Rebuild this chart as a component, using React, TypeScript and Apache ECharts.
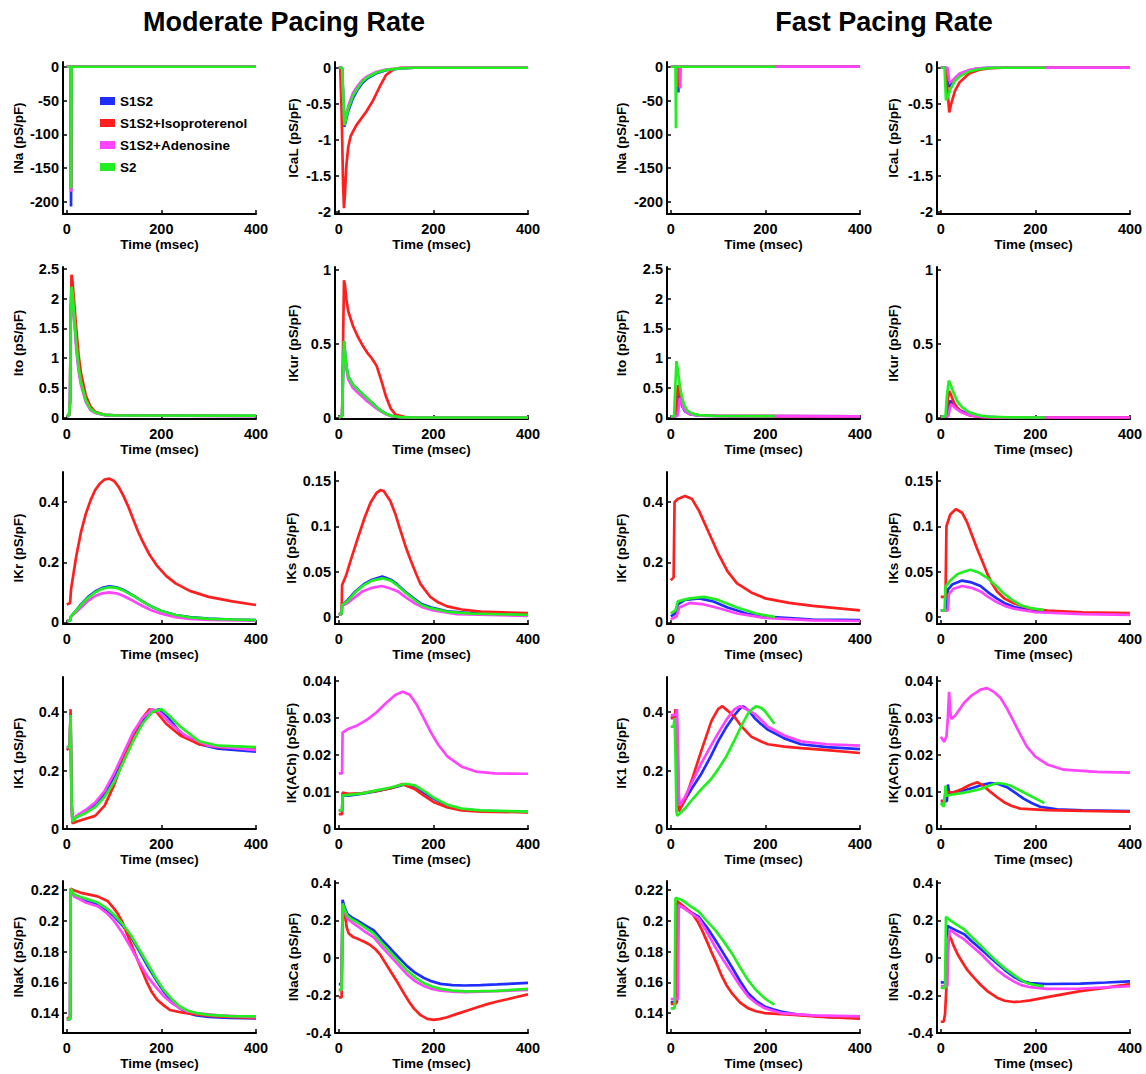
import React, { useEffect, useRef } from 'react';
import * as echarts from 'echarts';

const FONT = '"Liberation Sans", Arial, Helvetica, sans-serif';

const seriesNames = ['S1S2', 'S1S2+Isoproterenol', 'S1S2+Adenosine', 'S2'];
const seriesColors = ['#1f2eff', '#ff1f1f', '#ff44ff', '#22ee22'];
const panelTitles = ['Moderate Pacing Rate', 'Fast Pacing Rate'];
const timeTicks = [0, 200, 400];
const timeRange = [-8, 400];

// current names by row (left, right)
const currentLabels = [
  ['INa (pS/pF)', 'ICaL (pS/pF)'],
  ['Ito (pS/pF)', 'IKur (pS/pF)'],
  ['IKr (pS/pF)', 'IKs (pS/pF)'],
  ['IK1 (pS/pF)', 'IK(ACh) (pS/pF)'],
  ['INaK (pS/pF)', 'INaCa (pS/pF)'],
];

const ticksINa = [-200, -150, -100, -50, 0];
const ticksICaL = [-2, -1.5, -1, -0.5, 0];
const ticksIto = [0, 0.5, 1, 1.5, 2, 2.5];
const ticksIKur = [0, 0.5, 1];
const ticksIKr = [0, 0.2, 0.4];
const ticksIKs = [0, 0.05, 0.1, 0.15];
const ticksIK1 = [0, 0.2, 0.4];
const ticksIKACh = [0, 0.01, 0.02, 0.03, 0.04];
const ticksINaK = [0.14, 0.16, 0.18, 0.2, 0.22];
const ticksINaCa = [-0.4, -0.2, 0, 0.2, 0.4];

const rangeINa = [-218, 7];
const rangeICaL = [-2.03, 0.08];
const rangeIto = [-0.02, 2.53];
const rangeIKur = [-0.01, 1.02];
const rangeIKr = [-0.005, 0.5];
const rangeIKs = [-0.008, 0.16];
const rangeIK1 = [0, 0.52];
const rangeIKACh = [0, 0.041];
const rangeINaK = [0.127, 0.226];
const rangeINaCa = [-0.4, 0.41];

// ---- Moderate pacing rate: [S1S2, +Iso, +Ade, S2] as [time, value]
const mINa = [
  [[0, 0], [8, 0], [9, -207], [10, 0], [400, 0]],
  [[0, 0], [8, 0], [9, -182], [10, 0], [400, 0]],
  [[0, 0], [8, 0], [9, -185], [10, 0], [400, 0]],
  [[0, 0], [8, 0], [9, -180], [10, 0], [400, 0]],
];
const mICaL = [
  [[0, 0], [7, 0], [9, -0.35], [12, -0.82], [14, -0.76], [20, -0.6], [30, -0.42], [40, -0.3], [50, -0.21], [60, -0.15], [80, -0.075], [100, -0.035], [130, -0.01], [160, 0], [400, 0]],
  [[0, 0], [3, 0], [6, -0.6], [9, -1.6], [11, -1.95], [13, -1.75], [16, -1.36], [20, -1.1], [25, -0.95], [37, -0.8], [58, -0.61], [72, -0.46], [86, -0.27], [100, -0.1], [115, -0.025], [130, 0], [400, 0]],
  [[0, 0], [7, 0], [9, -0.33], [12, -0.76], [14, -0.7], [20, -0.53], [30, -0.35], [40, -0.25], [50, -0.17], [60, -0.12], [80, -0.055], [100, -0.025], [130, -0.005], [160, 0], [400, 0]],
  [[0, 0], [7, 0], [9, -0.34], [12, -0.8], [14, -0.74], [20, -0.57], [30, -0.39], [40, -0.28], [50, -0.19], [60, -0.135], [80, -0.065], [100, -0.03], [130, -0.008], [160, 0], [400, 0]],
];
const mIto = [
  [[0, 0.02], [5, 0.05], [7, 0.3], [8, 1.5], [10, 2.2], [12, 2.1], [15, 1.8], [20, 1.25], [25, 0.85], [30, 0.6], [40, 0.3], [50, 0.15], [60, 0.09], [80, 0.05], [100, 0.04], [400, 0.03]],
  [[0, 0.02], [5, 0.05], [7, 0.3], [8, 1.6], [10, 2.4], [12, 2.3], [15, 2.0], [20, 1.5], [25, 1.05], [30, 0.75], [40, 0.38], [50, 0.19], [60, 0.1], [80, 0.05], [100, 0.04], [400, 0.03]],
  [[0, 0.02], [5, 0.05], [7, 0.3], [8, 1.4], [10, 2.1], [12, 2.0], [15, 1.7], [20, 1.15], [25, 0.78], [30, 0.55], [40, 0.27], [50, 0.13], [60, 0.08], [80, 0.045], [100, 0.035], [400, 0.03]],
  [[0, 0.02], [5, 0.05], [7, 0.3], [8, 1.5], [10, 2.2], [12, 2.1], [15, 1.8], [20, 1.25], [25, 0.85], [30, 0.6], [40, 0.3], [50, 0.15], [60, 0.09], [80, 0.05], [100, 0.04], [400, 0.035]],
];
const mIKur = [
  [[0, 0], [7, 0.01], [9, 0.3], [11, 0.52], [13, 0.45], [16, 0.35], [20, 0.28], [30, 0.22], [40, 0.19], [50, 0.16], [60, 0.13], [70, 0.1], [80, 0.07], [90, 0.045], [100, 0.025], [110, 0.012], [130, 0.003], [160, 0], [400, 0]],
  [[0, 0], [7, 0.01], [9, 0.5], [11, 0.93], [13, 0.9], [16, 0.8], [20, 0.72], [30, 0.62], [40, 0.55], [50, 0.49], [60, 0.44], [70, 0.4], [80, 0.35], [90, 0.25], [100, 0.14], [110, 0.06], [120, 0.02], [140, 0.003], [160, 0], [400, 0]],
  [[0, 0], [7, 0.01], [9, 0.28], [11, 0.48], [13, 0.42], [16, 0.33], [20, 0.26], [30, 0.2], [40, 0.17], [50, 0.14], [60, 0.11], [70, 0.085], [80, 0.06], [90, 0.04], [100, 0.022], [110, 0.01], [130, 0.002], [160, 0], [400, 0]],
  [[0, 0], [7, 0.01], [9, 0.3], [11, 0.52], [13, 0.45], [16, 0.35], [20, 0.28], [30, 0.22], [40, 0.19], [50, 0.16], [60, 0.13], [70, 0.1], [80, 0.07], [90, 0.045], [100, 0.025], [110, 0.012], [130, 0.003], [160, 0], [400, 0]],
];
const mIKr = [
  [[0, 0.005], [7, 0.006], [9, 0.02], [20, 0.04], [30, 0.06], [45, 0.085], [60, 0.103], [75, 0.115], [90, 0.12], [105, 0.117], [120, 0.108], [140, 0.09], [160, 0.07], [180, 0.052], [200, 0.038], [230, 0.025], [260, 0.018], [300, 0.013], [350, 0.01], [400, 0.008]],
  [[0, 0.06], [7, 0.065], [9, 0.11], [15, 0.17], [20, 0.22], [30, 0.3], [40, 0.36], [50, 0.405], [60, 0.44], [70, 0.462], [80, 0.475], [90, 0.478], [100, 0.47], [110, 0.45], [120, 0.42], [130, 0.385], [140, 0.345], [150, 0.305], [160, 0.27], [175, 0.225], [190, 0.19], [210, 0.155], [230, 0.13], [260, 0.105], [300, 0.085], [350, 0.07], [400, 0.058]],
  [[0, 0.005], [7, 0.006], [9, 0.02], [20, 0.035], [30, 0.05], [45, 0.072], [60, 0.088], [75, 0.097], [90, 0.1], [105, 0.097], [120, 0.088], [140, 0.072], [160, 0.055], [180, 0.04], [200, 0.029], [230, 0.018], [260, 0.012], [300, 0.009], [400, 0.006]],
  [[0, 0.005], [7, 0.006], [9, 0.02], [20, 0.04], [30, 0.058], [45, 0.082], [60, 0.1], [75, 0.112], [90, 0.117], [105, 0.115], [120, 0.106], [140, 0.089], [160, 0.07], [180, 0.052], [200, 0.038], [230, 0.025], [260, 0.017], [300, 0.012], [350, 0.01], [400, 0.008]],
];
const mIKs = [
  [[0, 0.003], [6, 0.003], [7, 0.013], [18, 0.018], [35, 0.028], [53, 0.036], [70, 0.041], [92, 0.0445], [110, 0.041], [123, 0.036], [140, 0.028], [159, 0.02], [175, 0.014], [194, 0.0104], [229, 0.006], [280, 0.004], [400, 0.002]],
  [[0, 0.003], [6, 0.003], [7, 0.035], [15, 0.045], [25, 0.062], [39, 0.085], [55, 0.11], [67, 0.126], [80, 0.137], [88, 0.14], [95, 0.139], [109, 0.128], [120, 0.113], [130, 0.096], [141, 0.078], [152, 0.0625], [163, 0.048], [173, 0.036], [194, 0.0216], [210, 0.016], [229, 0.0115], [260, 0.008], [300, 0.0056], [400, 0.004]],
  [[0, 0.003], [6, 0.003], [7, 0.012], [18, 0.015], [35, 0.022], [50, 0.028], [70, 0.032], [90, 0.034], [105, 0.032], [125, 0.028], [140, 0.022], [160, 0.015], [180, 0.01], [200, 0.007], [250, 0.003], [400, 0.001]],
  [[0, 0.003], [6, 0.003], [7, 0.013], [18, 0.017], [35, 0.027], [53, 0.035], [70, 0.04], [92, 0.0425], [110, 0.04], [123, 0.035], [140, 0.027], [159, 0.019], [175, 0.013], [194, 0.0095], [229, 0.0055], [280, 0.0035], [400, 0.002]],
];
const mIK1 = [
  [[0, 0.28], [6, 0.28], [8, 0.38], [10, 0.1], [12, 0.025], [20, 0.04], [40, 0.06], [60, 0.085], [80, 0.12], [100, 0.18], [120, 0.25], [140, 0.32], [160, 0.37], [180, 0.4], [195, 0.41], [210, 0.39], [240, 0.33], [280, 0.29], [320, 0.275], [400, 0.265]],
  [[0, 0.27], [6, 0.28], [8, 0.41], [10, 0.1], [12, 0.02], [20, 0.025], [40, 0.035], [60, 0.045], [80, 0.08], [100, 0.15], [120, 0.24], [140, 0.32], [160, 0.38], [175, 0.41], [190, 0.4], [210, 0.36], [240, 0.32], [280, 0.29], [320, 0.28], [400, 0.275]],
  [[0, 0.28], [6, 0.28], [8, 0.38], [10, 0.1], [12, 0.025], [20, 0.045], [40, 0.065], [60, 0.09], [80, 0.13], [100, 0.19], [120, 0.26], [140, 0.33], [160, 0.38], [180, 0.41], [195, 0.4], [220, 0.36], [250, 0.32], [300, 0.285], [400, 0.27]],
  [[0, 0.28], [6, 0.28], [8, 0.39], [10, 0.1], [12, 0.025], [20, 0.04], [40, 0.055], [60, 0.075], [80, 0.11], [100, 0.16], [120, 0.23], [140, 0.3], [160, 0.36], [180, 0.4], [200, 0.41], [215, 0.39], [240, 0.35], [280, 0.3], [320, 0.285], [400, 0.28]],
];
const mIKACh = [
  [[0, 0.005], [7, 0.005], [8, 0.009], [20, 0.009], [50, 0.0095], [80, 0.0102], [110, 0.011], [140, 0.012], [160, 0.0115], [180, 0.0098], [200, 0.0082], [230, 0.0063], [260, 0.0054], [300, 0.0049], [400, 0.0046]],
  [[0, 0.004], [7, 0.004], [8, 0.0098], [20, 0.0095], [50, 0.0097], [80, 0.0103], [110, 0.011], [135, 0.0121], [160, 0.0108], [180, 0.009], [200, 0.0073], [230, 0.0058], [260, 0.005], [300, 0.0047], [400, 0.0045]],
  [[0, 0.015], [7, 0.015], [8, 0.026], [20, 0.027], [40, 0.028], [60, 0.0295], [80, 0.0315], [100, 0.034], [120, 0.0362], [135, 0.037], [150, 0.0362], [165, 0.0335], [180, 0.0298], [195, 0.026], [210, 0.0228], [230, 0.0195], [260, 0.0168], [290, 0.0155], [330, 0.015], [400, 0.0149]],
  [[0, 0.005], [7, 0.005], [8, 0.009], [20, 0.0092], [50, 0.0096], [80, 0.0104], [110, 0.0112], [140, 0.0122], [160, 0.0118], [180, 0.0103], [200, 0.0085], [230, 0.0065], [260, 0.0055], [300, 0.005], [400, 0.0047]],
];
const mINaK = [
  [[0, 0.136], [7, 0.136], [8, 0.22], [16, 0.216], [40, 0.2135], [65, 0.211], [85, 0.207], [100, 0.203], [118, 0.197], [135, 0.19], [152, 0.181], [170, 0.171], [188, 0.162], [205, 0.154], [222, 0.148], [239, 0.143], [256, 0.14], [274, 0.1385], [300, 0.1375], [344, 0.1368], [400, 0.1365]],
  [[0, 0.1367], [7, 0.1367], [8, 0.221], [15, 0.22], [30, 0.2183], [50, 0.217], [65, 0.216], [86, 0.213], [100, 0.208], [107, 0.205], [118, 0.199], [128, 0.191], [139, 0.183], [149, 0.175], [160, 0.167], [170, 0.1596], [180, 0.1535], [191, 0.1487], [205, 0.145], [218, 0.142], [240, 0.1405], [260, 0.1396], [309, 0.138], [400, 0.1367]],
  [[0, 0.136], [7, 0.136], [8, 0.22], [16, 0.216], [40, 0.212], [65, 0.2096], [85, 0.205], [100, 0.2], [118, 0.192], [135, 0.183], [152, 0.1735], [170, 0.164], [188, 0.157], [205, 0.151], [222, 0.1465], [239, 0.143], [256, 0.141], [274, 0.14], [320, 0.1385], [400, 0.1374]],
  [[0, 0.136], [7, 0.136], [8, 0.221], [16, 0.217], [40, 0.2145], [65, 0.212], [85, 0.208], [100, 0.204], [118, 0.198], [135, 0.191], [152, 0.182], [170, 0.1726], [188, 0.163], [205, 0.155], [222, 0.149], [239, 0.1443], [256, 0.1415], [274, 0.14], [300, 0.1388], [344, 0.138], [400, 0.1378]],
];
const mINaCa = [
  [[0, -0.14], [6, -0.14], [8, 0.31], [12, 0.27], [18, 0.234], [28, 0.215], [39, 0.2], [55, 0.175], [74, 0.147], [90, 0.1], [109, 0.05], [127, 0.002], [145, -0.045], [162, -0.08], [180, -0.107], [197, -0.125], [215, -0.138], [240, -0.145], [265, -0.147], [300, -0.145], [335, -0.141], [400, -0.133]],
  [[0, -0.21], [6, -0.21], [8, 0.28], [11, 0.25], [14, 0.21], [17, 0.16], [21, 0.13], [30, 0.112], [39, 0.103], [55, 0.085], [67, 0.068], [78, 0.045], [88, 0.016], [98, -0.025], [109, -0.07], [124, -0.13], [138, -0.19], [149, -0.235], [159, -0.27], [173, -0.305], [187, -0.325], [201, -0.33], [215, -0.325], [229, -0.316], [250, -0.298], [272, -0.28], [293, -0.263], [314, -0.246], [335, -0.232], [356, -0.22], [378, -0.207], [400, -0.194]],
  [[0, -0.17], [6, -0.17], [8, 0.28], [12, 0.25], [18, 0.21], [28, 0.19], [39, 0.17], [55, 0.14], [74, 0.11], [90, 0.062], [109, 0.01], [127, -0.04], [145, -0.09], [162, -0.125], [180, -0.15], [197, -0.165], [215, -0.175], [240, -0.18], [265, -0.182], [300, -0.18], [400, -0.17]],
  [[0, -0.17], [6, -0.17], [8, 0.29], [12, 0.26], [18, 0.225], [28, 0.205], [39, 0.19], [55, 0.163], [74, 0.13], [90, 0.082], [109, 0.03], [127, -0.02], [145, -0.07], [162, -0.105], [180, -0.135], [197, -0.152], [215, -0.165], [240, -0.174], [265, -0.178], [300, -0.177], [335, -0.175], [400, -0.165]],
];

// ---- Fast pacing rate
const fINa = [
  [[0, 0], [15, 0], [16, -38], [17, 0], [400, 0]],
  [[0, 0], [16, 0], [17, -30], [18, 0], [400, 0]],
  [[0, 0], [19, 0], [20, -32], [21, 0], [400, 0]],
  [[0, 0], [10, 0], [11, -91], [12, 0], [220, 0]],
];
const fICaL = [
  [[0, 0], [12, 0], [16, -0.25], [20, -0.26], [25, -0.2], [35, -0.12], [50, -0.06], [70, -0.02], [100, 0], [400, 0]],
  [[0, 0], [10, 0], [14, -0.3], [18, -0.62], [22, -0.5], [30, -0.32], [40, -0.2], [60, -0.08], [80, -0.03], [100, -0.01], [130, 0], [400, 0]],
  [[0, 0], [14, 0], [18, -0.18], [22, -0.2], [30, -0.14], [40, -0.08], [60, -0.03], [90, 0], [400, 0]],
  [[0, 0], [8, 0], [11, -0.45], [14, -0.42], [20, -0.3], [30, -0.18], [40, -0.12], [60, -0.05], [80, -0.02], [110, 0], [220, 0]],
];
const fIto = [
  [[0, 0.02], [12, 0.03], [15, 0.2], [17, 0.38], [20, 0.3], [25, 0.18], [30, 0.11], [40, 0.06], [60, 0.035], [100, 0.03], [400, 0.025]],
  [[0, 0.02], [10, 0.03], [13, 0.3], [15, 0.55], [18, 0.45], [22, 0.3], [30, 0.15], [40, 0.08], [60, 0.04], [100, 0.03], [400, 0.025]],
  [[0, 0.02], [14, 0.03], [17, 0.18], [19, 0.33], [22, 0.27], [27, 0.16], [32, 0.1], [40, 0.06], [60, 0.035], [100, 0.03], [400, 0.025]],
  [[0, 0.02], [7, 0.03], [10, 0.6], [12, 0.95], [14, 0.85], [18, 0.6], [22, 0.4], [28, 0.22], [35, 0.12], [45, 0.07], [60, 0.045], [100, 0.03], [220, 0.028]],
];
const fIKur = [
  [[0, 0.005], [14, 0.01], [17, 0.08], [20, 0.115], [24, 0.1], [30, 0.075], [40, 0.05], [55, 0.027], [70, 0.014], [90, 0.006], [120, 0.002], [160, 0], [400, 0]],
  [[0, 0.005], [12, 0.01], [15, 0.13], [18, 0.18], [22, 0.15], [28, 0.1], [35, 0.065], [45, 0.035], [60, 0.015], [80, 0.005], [110, 0], [400, 0]],
  [[0, 0.005], [16, 0.01], [19, 0.06], [22, 0.09], [26, 0.08], [32, 0.06], [42, 0.038], [55, 0.022], [70, 0.011], [90, 0.005], [120, 0.001], [160, 0], [400, 0]],
  [[0, 0.005], [10, 0.01], [13, 0.15], [17, 0.25], [21, 0.22], [28, 0.16], [35, 0.11], [45, 0.07], [60, 0.035], [80, 0.015], [100, 0.006], [140, 0.002], [220, 0]],
];
const fIKr = [
  [[0, 0.02], [10, 0.03], [15, 0.06], [30, 0.075], [60, 0.08], [90, 0.07], [120, 0.05], [160, 0.03], [200, 0.02], [300, 0.01], [400, 0.008]],
  [[0, 0.14], [6, 0.15], [8, 0.4], [15, 0.41], [30, 0.42], [45, 0.41], [60, 0.37], [80, 0.3], [100, 0.23], [120, 0.17], [140, 0.13], [170, 0.1], [200, 0.08], [250, 0.065], [300, 0.055], [400, 0.04]],
  [[0, 0.01], [12, 0.02], [18, 0.05], [40, 0.065], [70, 0.06], [100, 0.048], [140, 0.03], [200, 0.015], [300, 0.007], [400, 0.005]],
  [[0, 0.03], [10, 0.04], [15, 0.07], [40, 0.08], [70, 0.085], [100, 0.075], [140, 0.05], [180, 0.03], [220, 0.018]],
];
const fIKs = [
  [[0, 0.007], [13, 0.007], [15, 0.03], [25, 0.036], [45, 0.04], [65, 0.038], [84, 0.034], [100, 0.027], [119, 0.02], [135, 0.015], [154, 0.011], [189, 0.007], [225, 0.005], [300, 0.004], [400, 0.003]],
  [[0, 0.022], [10, 0.022], [12, 0.1], [20, 0.113], [32, 0.119], [45, 0.115], [56, 0.104], [66, 0.09], [77, 0.075], [88, 0.061], [98, 0.048], [108, 0.037], [119, 0.028], [135, 0.02], [154, 0.015], [189, 0.009], [225, 0.0067], [300, 0.005], [400, 0.004]],
  [[0, 0.007], [15, 0.007], [17, 0.025], [27, 0.031], [45, 0.034], [65, 0.032], [84, 0.028], [100, 0.022], [119, 0.016], [135, 0.012], [154, 0.009], [200, 0.005], [300, 0.003], [400, 0.002]],
  [[0, 0.007], [8, 0.007], [10, 0.033], [20, 0.04], [35, 0.047], [50, 0.05], [63, 0.052], [80, 0.049], [98, 0.043], [115, 0.035], [133, 0.026], [150, 0.019], [168, 0.013], [190, 0.0095], [218, 0.0075]],
];
const fIK1 = [
  [[0, 0.38], [10, 0.38], [12, 0.41], [14, 0.3], [16, 0.12], [18, 0.07], [30, 0.1], [45, 0.14], [65, 0.19], [85, 0.25], [100, 0.3], [118, 0.35], [135, 0.39], [145, 0.41], [153, 0.42], [165, 0.405], [177, 0.38], [190, 0.36], [205, 0.34], [240, 0.31], [275, 0.29], [330, 0.28], [400, 0.273]],
  [[0, 0.38], [8, 0.38], [10, 0.41], [12, 0.3], [14, 0.12], [17, 0.06], [30, 0.1], [45, 0.17], [65, 0.27], [86, 0.37], [100, 0.41], [109, 0.42], [120, 0.405], [135, 0.383], [150, 0.35], [170, 0.316], [190, 0.3], [205, 0.29], [240, 0.282], [275, 0.277], [330, 0.27], [400, 0.26]],
  [[0, 0.39], [11, 0.39], [13, 0.41], [15, 0.3], [17, 0.12], [19, 0.08], [30, 0.11], [45, 0.16], [65, 0.226], [85, 0.285], [100, 0.327], [118, 0.375], [135, 0.41], [146, 0.42], [160, 0.41], [177, 0.394], [190, 0.375], [205, 0.35], [240, 0.32], [275, 0.3], [330, 0.29], [400, 0.285]],
  [[0, 0.35], [6, 0.35], [8, 0.38], [10, 0.25], [12, 0.06], [14, 0.045], [30, 0.07], [45, 0.1], [65, 0.137], [85, 0.17], [100, 0.204], [118, 0.25], [135, 0.305], [150, 0.355], [163, 0.394], [172, 0.41], [181, 0.42], [190, 0.415], [198, 0.405], [210, 0.38], [219, 0.36]],
];
const fIKACh = [
  [[0, 0.0075], [13, 0.0075], [15, 0.012], [18, 0.0095], [30, 0.01], [49, 0.0104], [70, 0.0112], [90, 0.012], [105, 0.0124], [120, 0.0122], [140, 0.0113], [157, 0.0098], [175, 0.0082], [192, 0.007], [210, 0.006], [246, 0.0053], [300, 0.005], [400, 0.0048]],
  [[0, 0.0075], [8, 0.0075], [10, 0.0101], [25, 0.0098], [45, 0.0108], [60, 0.0118], [77, 0.0126], [90, 0.0117], [105, 0.01], [120, 0.0085], [133, 0.0073], [150, 0.0062], [168, 0.0055], [225, 0.0051], [300, 0.0049], [400, 0.0047]],
  [[0, 0.0249], [7, 0.0235], [12, 0.025], [15, 0.03], [17.5, 0.037], [20, 0.032], [22, 0.0297], [30, 0.0305], [49, 0.034], [65, 0.036], [84, 0.0376], [98, 0.038], [112, 0.037], [126, 0.0354], [140, 0.0325], [154, 0.029], [168, 0.0255], [182, 0.0222], [200, 0.0195], [225, 0.0174], [260, 0.016], [330, 0.0154], [400, 0.0152]],
  [[0, 0.007], [6, 0.006], [9, 0.0095], [10, 0.0117], [12, 0.009], [25, 0.0093], [49, 0.0098], [65, 0.0102], [84, 0.0108], [100, 0.0116], [119, 0.0124], [133, 0.0122], [147, 0.0117], [161, 0.0108], [175, 0.0099], [190, 0.0089], [204, 0.008], [219, 0.007]],
];
const fINaK = [
  [[0, 0.147], [13, 0.147], [15, 0.21], [25, 0.209], [40, 0.206], [59, 0.2027], [76, 0.196], [94, 0.1876], [111, 0.179], [129, 0.17], [146, 0.161], [163, 0.153], [180, 0.148], [198, 0.1443], [216, 0.1425], [233, 0.141], [268, 0.139], [330, 0.1375], [400, 0.1368]],
  [[0, 0.146], [11, 0.146], [13, 0.213], [25, 0.21], [45, 0.2049], [56, 0.2], [66, 0.194], [76, 0.187], [87, 0.179], [98, 0.1715], [108, 0.164], [118, 0.158], [129, 0.153], [146, 0.147], [163, 0.1432], [180, 0.1412], [198, 0.14], [260, 0.1388], [320, 0.1375], [400, 0.1363]],
  [[0, 0.149], [15, 0.149], [17, 0.21], [25, 0.209], [40, 0.2055], [59, 0.2016], [76, 0.193], [94, 0.183], [111, 0.1745], [129, 0.166], [146, 0.158], [163, 0.151], [180, 0.1465], [198, 0.1432], [216, 0.1415], [233, 0.14], [300, 0.1385], [400, 0.1378]],
  [[0, 0.143], [8, 0.143], [10, 0.215], [24, 0.2135], [40, 0.21], [59, 0.206], [76, 0.2], [94, 0.194], [111, 0.187], [129, 0.179], [146, 0.17], [163, 0.1616], [180, 0.155], [198, 0.1497], [219, 0.1454]],
];
const fINaCa = [
  [[0, -0.13], [12, -0.13], [14, 0.17], [22, 0.16], [35, 0.143], [49, 0.127], [66, 0.088], [84, 0.049], [101, 0.01], [119, -0.03], [136, -0.066], [154, -0.1], [170, -0.122], [189, -0.134], [225, -0.139], [295, -0.137], [350, -0.131], [400, -0.125]],
  [[0, -0.34], [6, -0.34], [9, -0.3], [12, -0.15], [15, 0.05], [17.5, 0.12], [22, 0.1], [28, 0.06], [35, 0.0226], [45, -0.02], [56, -0.064], [70, -0.105], [84, -0.143], [100, -0.18], [119, -0.212], [135, -0.228], [154, -0.235], [170, -0.232], [189, -0.226], [225, -0.209], [260, -0.193], [295, -0.177], [350, -0.158], [400, -0.139]],
  [[0, -0.15], [14, -0.15], [16, 0.1], [20, 0.15], [30, 0.13], [49, 0.1], [66, 0.062], [84, 0.023], [101, -0.02], [119, -0.064], [136, -0.097], [154, -0.125], [170, -0.145], [189, -0.156], [225, -0.165], [295, -0.163], [350, -0.157], [400, -0.151]],
  [[0, -0.16], [9, -0.16], [11, 0.22], [20, 0.2], [35, 0.175], [49, 0.153], [66, 0.11], [84, 0.066], [101, 0.023], [119, -0.02], [136, -0.057], [154, -0.09], [168, -0.114], [182, -0.134], [200, -0.145], [218, -0.151]],
];

const moderateRows = [[mINa, mICaL], [mIto, mIKur], [mIKr, mIKs], [mIK1, mIKACh], [mINaK, mINaCa]];
const fastRows = [[fINa, fICaL], [fIto, fIKur], [fIKr, fIKs], [fIK1, fIKACh], [fINaK, fINaCa]];
const rowTicks = [[ticksINa, ticksICaL], [ticksIto, ticksIKur], [ticksIKr, ticksIKs], [ticksIK1, ticksIKACh], [ticksINaK, ticksINaCa]];
const rowRanges = [[rangeINa, rangeICaL], [rangeIto, rangeIKur], [rangeIKr, rangeIKs], [rangeIK1, rangeIKACh], [rangeINaK, rangeINaCa]];

// layout
const colLeft = [63, 335, 667, 937];
const rowTop = [62, 267, 472, 677, 881];
const plotW = 193;
const plotH = 152;
const yNameGap = [38, 35, 39, 37];

function buildOption() {
  const grid: any[] = [];
  const xAxis: any[] = [];
  const yAxis: any[] = [];
  const series: any[] = [];
  const fmt = (v: number) => String(parseFloat(Number(v).toFixed(4)));
  const axisText = { color: '#000', fontFamily: FONT, fontWeight: 'bold', fontSize: 14.5 };
  const nameText = { color: '#000', fontFamily: FONT, fontWeight: 'bold', fontSize: 13.5 };
  for (let r = 0; r < 5; r++) {
    for (let c = 0; c < 4; c++) {
      const idx = r * 4 + c;
      const k = c % 2;
      const data = c < 2 ? moderateRows[r][k] : fastRows[r][k];
      const ticks = rowTicks[r][k];
      const range = rowRanges[r][k];
      grid.push({ left: colLeft[c], top: rowTop[r], width: plotW, height: plotH });
      xAxis.push({
        type: 'value', gridIndex: idx, min: timeRange[0], max: timeRange[1],
        axisLine: { show: true, onZero: false, lineStyle: { color: '#000', width: 2 } },
        axisTick: { show: true, inside: true, length: 4, customValues: timeTicks, lineStyle: { color: '#000', width: 1.5 } },
        axisLabel: { show: true, customValues: timeTicks, margin: 7, formatter: fmt, ...axisText },
        splitLine: { show: false },
        name: 'Time (msec)', nameLocation: 'middle', nameGap: 23, nameTextStyle: nameText,
      });
      yAxis.push({
        type: 'value', gridIndex: idx, min: range[0], max: range[1],
        axisLine: { show: true, onZero: false, lineStyle: { color: '#000', width: 2 } },
        axisTick: { show: true, inside: true, length: 4, customValues: ticks, lineStyle: { color: '#000', width: 1.5 } },
        axisLabel: { show: true, customValues: ticks, margin: 4, formatter: fmt, ...axisText },
        splitLine: { show: false },
        name: currentLabels[r][k], nameLocation: 'middle', nameRotate: 90, nameGap: yNameGap[c], nameTextStyle: nameText,
      });
      for (let s = 0; s < 4; s++) {
        series.push({
          type: 'line', name: seriesNames[s], xAxisIndex: idx, yAxisIndex: idx,
          data: data[s], showSymbol: false, symbol: 'none', silent: true,
          color: seriesColors[s],
          lineStyle: { width: 2.7, color: seriesColors[s] },
          z: 2 + s,
        });
      }
    }
  }
  return {
    animation: false,
    backgroundColor: '#fff',
    title: [
      { text: panelTitles[0], left: 284, top: 8, textAlign: 'center', padding: 0, textStyle: { fontFamily: FONT, fontWeight: 'bold', fontSize: 27, color: '#000' } },
      { text: panelTitles[1], left: 884, top: 8, textAlign: 'center', padding: 0, textStyle: { fontFamily: FONT, fontWeight: 'bold', fontSize: 27, color: '#000' } },
    ],
    legend: {
      show: true, data: seriesNames, orient: 'vertical', left: 100, top: 94,
      icon: 'rect', itemWidth: 15, itemHeight: 8, itemGap: 8, padding: 0,
      selectedMode: false,
      textStyle: { color: '#000', fontFamily: FONT, fontWeight: 'bold', fontSize: 13.5 },
    },
    grid, xAxis, yAxis, series,
  };
}

export default function App() {
  const ref = useRef<HTMLDivElement>(null);
  useEffect(() => {
    if (!ref.current) return;
    const chart = echarts.init(ref.current, undefined, { renderer: 'svg' });
    chart.setOption(buildOption() as any);
    return () => chart.dispose();
  }, []);
  return <div ref={ref} style={{ position: 'absolute', left: 0, top: 0, width: 1146, height: 1074, background: '#fff' }} />;
}
